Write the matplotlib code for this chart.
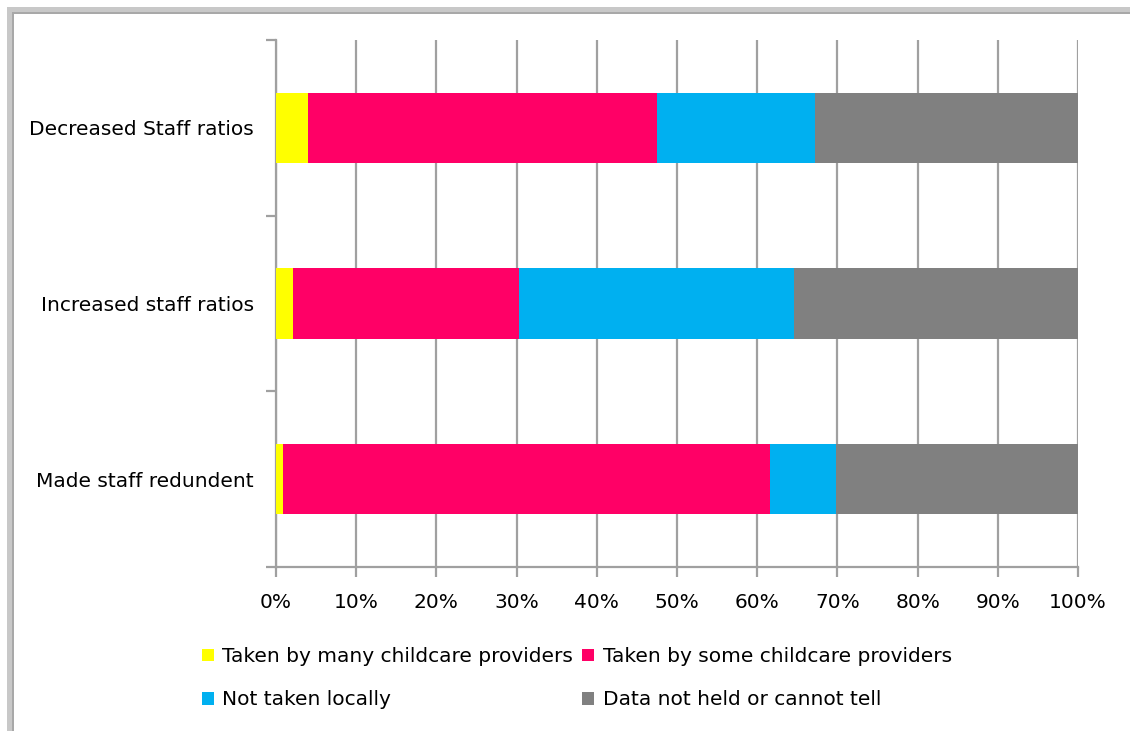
import numpy as np
import matplotlib.pyplot as plt
from matplotlib.patches import Rectangle

categories = ['Made staff redundent', 'Increased staff ratios', 'Decreased Staff ratios']
series_names = ['Taken by many childcare providers', 'Taken by some childcare providers',
                'Not taken locally', 'Data not held or cannot tell']
colors = ['#FFFF00', '#FF0066', '#00B0F0', '#808080']

# percentage of respondents per category (bottom to top order)
many = [0.9, 2.1, 4.0]
some = [60.7, 28.2, 43.5]
not_taken = [8.2, 34.3, 19.7]
no_data = [30.2, 35.4, 32.8]

W, H = 1130, 731
FS = 14.5
plt.rcParams['font.family'] = ['DejaVu Sans']
fig = plt.figure(figsize=(W / 100, H / 100), dpi=100)

# window-like frame along the top and left edges
fig.patches.append(Rectangle((7 / W, 0), 7 / W, 1 - 7 / H, transform=fig.transFigure,
                             facecolor='#c8c8c8', edgecolor='none'))
fig.patches.append(Rectangle((7 / W, 1 - 14 / H), 1 - 7 / W, 7 / H, transform=fig.transFigure,
                             facecolor='#c8c8c8', edgecolor='none'))
fig.patches.append(Rectangle((12 / W, 0), 2 / W, 1 - 12 / H, transform=fig.transFigure,
                             facecolor='#a8a8a8', edgecolor='none'))
fig.patches.append(Rectangle((12 / W, 1 - 14 / H), 1 - 12 / W, 2 / H, transform=fig.transFigure,
                             facecolor='#a8a8a8', edgecolor='none'))

ax = fig.add_axes([276 / W, 1 - 567 / H, (1078 - 276) / W, (567 - 40) / H])

y = np.arange(len(categories))
left = np.zeros(len(categories))
bars = []
for name, vals, c in zip(series_names, [many, some, not_taken, no_data], colors):
    bars.append(ax.barh(y, vals, left=left, height=0.4, color=c, label=name, zorder=3))
    left += np.array(vals)

ax.set_xlim(0, 100)
ax.set_ylim(-0.5, 2.5)
ax.set_xticks(np.arange(0, 101, 10))
ax.set_xticklabels([f'{v}%' for v in range(0, 101, 10)], fontsize=FS)
ax.set_yticks(y)
ax.set_yticklabels(categories, fontsize=FS)
ax.set_yticks(np.arange(-0.5, 2.6, 1), minor=True)

grid_c = '#a0a0a0'
ax.grid(axis='x', color=grid_c, linewidth=1.6, zorder=0)
for s in ['top', 'right']:
    ax.spines[s].set_visible(False)
for s in ['left', 'bottom']:
    ax.spines[s].set_color(grid_c)
    ax.spines[s].set_linewidth(1.6)
ax.tick_params(axis='y', which='major', length=0, pad=16)
ax.tick_params(axis='y', which='minor', length=7, width=1.6, color=grid_c)
ax.tick_params(axis='x', length=7, width=1.6, color=grid_c, pad=12)

# row-wise legend order: matplotlib fills columns first
order = [0, 2, 1, 3]
fig.legend([bars[i] for i in order], [series_names[i] for i in order],
           loc='upper center', bbox_to_anchor=(577 / W, 1 - 637 / H), ncol=2, frameon=False,
           fontsize=FS, handlelength=0.6, handleheight=0.6, handletextpad=0.4,
           columnspacing=0.45, labelspacing=1.2, borderpad=0)

fig.savefig('out.png', dpi=100)
